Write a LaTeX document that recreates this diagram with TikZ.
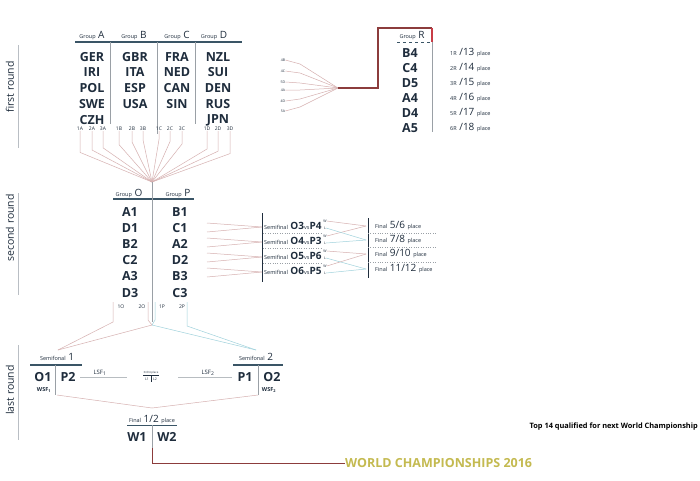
\documentclass[tikz,border=0pt]{standalone}
\usepackage{fontspec}
\setmainfont{Open Sans}
\setsansfont{Open Sans}
\definecolor{ink}{HTML}{1F2D3D}
\definecolor{rulec}{HTML}{3A5566}
\definecolor{sepc}{HTML}{9AA0A6}
\definecolor{pinkline}{RGB}{214,176,176}
\definecolor{blueline}{RGB}{160,210,220}
\definecolor{darkred}{RGB}{140,60,60}
\definecolor{brightred}{RGB}{200,60,70}
\definecolor{goldc}{RGB}{196,186,80}
\definecolor{roundc}{RGB}{185,190,196}
\newcommand{\gsm}[1]{{\fontsize{5.5}{6}\selectfont #1}}
\newcommand{\gbig}[1]{{\fontsize{10}{10}\selectfont #1}}
\newcommand{\gbigb}[1]{{\bfseries\fontsize{10}{10}\selectfont #1}}
\begin{document}
\begin{tikzpicture}[x=1pt,y=-1pt,
 team/.style={font=\bfseries\fontsize{12.5}{12.5}\selectfont, text=ink, inner sep=0pt},
 lbl/.style={font=\fontsize{5}{5}\selectfont, text=ink, inner sep=0pt},
 tinyl/.style={font=\fontsize{3.5}{4}\selectfont, text=ink, inner sep=0pt},
 hdr/.style={text=ink, inner sep=0pt, anchor=base},
 hrule/.style={draw=rulec, line width=1.1pt},
 sepline/.style={draw=sepc, line width=0.5pt},
 darkline/.style={draw=ink, line width=0.8pt},
 fan/.style={draw=pinkline, line width=0.5pt},
 fanb/.style={draw=blueline, line width=0.5pt},
 dotsep/.style={draw=sepc, line width=0.4pt, dotted},
 roundlbl/.style={font=\fontsize{10.5}{10.5}\selectfont, text=ink, rotate=90, inner sep=0pt},
 roundln/.style={draw=roundc, line width=0.6pt}]
\fill[white] (0,0) rectangle (700,480);
\useasboundingbox (0,0) rectangle (700,480);

% round labels
\node[roundlbl] (r1) at (10,87) {first round};
\node[roundlbl] (r2) at (10,228) {second round};
\node[roundlbl] (r3) at (10,390) {last round};
\draw[roundln] (18,45) -- (18,148);
\draw[roundln] (18,193) -- (18,295);
\draw[roundln] (18,345) -- (18,440);

% first round groups
\node[hdr] (gA) at (92,38) {\gsm{Group} \gbig{A}};
\node[hdr] (gB) at (134,38) {\gsm{Group} \gbig{B}};
\node[hdr] (gC) at (177,38) {\gsm{Group} \gbig{C}};
\node[hdr] (gD) at (214,38) {\gsm{Group} \gbig{D}};
\draw[hrule] (75,42) -- (242,42);
\draw[sepline] (110,42) -- (110,124);
\draw[sepline] (157,42) -- (157,134);
\draw[sepline] (195,42) -- (195,124);
\foreach \n/\x/\y in {GER/92/57,IRI/92/72,POL/92/88,SWE/92/104,CZH/92/120,
  GBR/135/57,ITA/135/72,ESP/135/88,USA/135/104,
  FRA/177/57,NED/177/72,CAN/177/88,SIN/177/104,
  NZL/218/57,SUI/218/72,DEN/218/88,RUS/218/104,JPN/218/120}
  \node[team] (t\n) at (\x,\y) {\n};
\coordinate (fanO) at (152,182);
\foreach \t/\x in {1A/80,2A/92,3A/103,1B/119,2B/132,3B/143,1C/159,2C/170,3C/182,1D/207,2D/218,3D/230}{
  \node[lbl] (l\t) at (\x,129) {\t};
  \draw[fan] (l\t.south) -- (\x,{138+abs(\x-152)*0.2}) -- (fanO);
}

% group R
\node[hdr] (gR) at (412,38) {\gsm{Group} \gbig{R}};
\draw[draw=rulec, line width=1pt, dashed] (397,42) -- (432,42);
\draw[sepline] (432,42) -- (432,132);
\foreach \n/\y/\r/\p in {B4/53/1R/13,C4/68/2R/14,D5/83/3R/15,A4/98/4R/16,D4/113/5R/17,A5/128/6R/18}{
  \node[team] (R\n) at (410,\y) {\n};
  \node[anchor=west, inner sep=0pt, text=ink] (P\n) at (450,\y) {\gsm{\r} \gbig{/\p} \gsm{place}};
}
\coordinate (fanR) at (338,88);
\foreach \t/\y/\yy in {4B/60/64,4C/71/73,5D/82/83,4A/90/90,4D/101/99,5A/111/107}{
  \node[tinyl] (q\t) at (283,\y) {\t};
  \draw[fan] (q\t.east) -- (300,\yy) -- (fanR);
}
\coordinate (rk1) at (378,88);
\coordinate (rk2) at (378,28);
\coordinate (rk3) at (432,28);
\coordinate (rk4) at (432,42);
\draw[darkred, line width=1.3pt] (fanR) -- (rk1) -- (rk2) -- (rk3);
\draw[brightred, line width=1.3pt] (rk3) -- (rk4);

% second round groups
\node[hdr] (gO) at (129,196) {\gsm{Group} \gbig{O}};
\node[hdr] (gP) at (178,196) {\gsm{Group} \gbig{P}};
\draw[hrule] (113,199) -- (194,199);
\draw[sepline] (fanO) -- (152,322);
\foreach \n/\m/\y in {A1/B1/212,D1/C1/228,B2/A2/244,C2/D2/260,A3/B3/276,D3/C3/293}{
  \node[team] (o\n) at (130,\y) {\n};
  \node[team] (p\m) at (180,\y) {\m};
}
\node[lbl] (l1O) at (121,307) {1O};
\node[lbl] (l2O) at (142,307) {2O};
\node[lbl] (l1P) at (162,307) {1P};
\node[lbl] (l2P) at (182,307) {2P};

% second-round semifinals
\draw[darkline] (262,213) -- (262,282);
\foreach \i/\a/\b/\y in {1/O3/P4/226,2/O4/P3/241,3/O5/P6/256,4/O6/P5/271}{
  \node[anchor=west, inner sep=0pt, text=ink] (sf\i) at (264,\y) {\gsm{Semifinal} \gbigb{\a}\gsm{vs}\gbigb{\b}};
  \node[tinyl] (w\i) at (325,\y-5) {W};
  \node[tinyl] (L\i) at (325,\y+2) {L};
  \coordinate (sfin\i) at (262,\y+1);
  \draw[fan] (207,\y-3) -- (sfin\i);
  \draw[fan] (207,\y+6) -- (sfin\i);
}
\draw[dotsep] (263,233.5) -- (322,233.5);
\draw[dotsep] (263,248.5) -- (322,248.5);
\draw[dotsep] (263,263.5) -- (322,263.5);
\draw[darkline] (368,218) -- (368,278);
\foreach \i/\t/\y in {1/5\slash6/226,2/7\slash8/240,3/9\slash10/254,4/11\slash12/269}{
  \node[anchor=west, inner sep=0pt, text=ink] (fn\i) at (375,\y) {\gsm{Final} \gbig{\t} \gsm{place}};
  \coordinate (fin\i) at (366,\y);
}
\draw[dotsep] (368,233) -- (437,233);
\draw[dotsep] (368,247) -- (437,247);
\draw[dotsep] (368,262) -- (437,262);
\draw[fan] (w1.east) -- (fin1);
\draw[fan] (w2.east) -- (fin1);
\draw[fanb] (L1.east) -- (fin2);
\draw[fanb] (L2.east) -- (fin2);
\draw[fan] (w3.east) -- (fin3);
\draw[fan] (w4.east) -- (fin3);
\draw[fanb] (L3.east) -- (fin4);
\draw[fanb] (L4.east) -- (fin4);

% connections to last round
\coordinate (jc) at (152,325);
\coordinate (sf1top) at (58,350);
\coordinate (sf2top) at (256,350);
\draw[fan] (113,302) -- (113,322) -- (sf1top);
\draw[fan] (148,302) -- (148,320) -- (jc);
\draw[fanb] (155,302) -- (155,320) -- (jc);
\draw[fan] (jc) -- (sf1top);
\draw[fanb] (jc) -- (sf2top);
\draw[fanb] (187,302) -- (187,326) -- (sf2top);

% last round
\node[hdr] (s1h) at (57,360) {\gsm{Semifonal} \gbig{1}};
\draw[hrule] (30,365) -- (82,365);
\node[team] (sO1) at (43,377) {O1};
\node[team] (sP2) at (68,377) {P2};
\draw[sepline] (55,365) -- (55,395);
\node[lbl, font=\bfseries\fontsize{5.5}{6}\selectfont] (wsf1) at (44,390) {WSF\textsubscript{1}};

\node[hdr] (s2h) at (256,360) {\gsm{Semifonal} \gbig{2}};
\draw[hrule] (233,365) -- (283,365);
\node[team] (sP1) at (245,377) {P1};
\node[team] (sO2) at (272,377) {O2};
\draw[sepline] (258,365) -- (258,395);
\node[lbl, font=\bfseries\fontsize{5.5}{6}\selectfont] (wsf2) at (269,390) {WSF\textsubscript{2}};

\draw[draw=sepc!70, line width=0.5pt] (80,377) -- (127,377);
\draw[draw=sepc!70, line width=0.5pt] (178,377) -- (232,377);
\node[lbl, fill=white, inner sep=1pt, font=\fontsize{6}{6}\selectfont] (lsf1) at (100,373) {LSF\textsubscript{1}};
\node[lbl, fill=white, inner sep=1pt, font=\fontsize{6}{6}\selectfont] (lsf2) at (208,373) {LSF\textsubscript{2}};
\node[tinyl, font=\fontsize{2.8}{3}\selectfont] (thr) at (151,373) {3rd/4 place};
\draw[draw=ink, line width=0.3pt] (143,375.5) -- (159,375.5);
\node[tinyl, font=\fontsize{3.5}{4}\selectfont] (ll1) at (147,379) {L1};
\node[tinyl, font=\fontsize{3.5}{4}\selectfont] (ll2) at (155,379) {L2};
\draw[draw=ink, line width=0.3pt] (151,376) -- (151,382);

\coordinate (fj) at (152,408);
\draw[fan] (57,395) -- (fj);
\draw[fan] (258,395) -- (fj);
\node[hdr] (fh) at (152,422) {\gsm{Final} \gbig{1/2} \gsm{place}};
\draw[draw=rulec, line width=0.8pt] (127,425) -- (177,425);
\node[team] (W1) at (137,437) {W1};
\node[team] (W2) at (167,437) {W2};
\draw[sepline] (152,425) -- (152,448);
\node[anchor=west, inner sep=0pt, text=goldc, font=\bfseries\fontsize{12.5}{13}\selectfont] (wc) at (345,463) {WORLD CHAMPIONSHIPS 2016};
\draw[darkred, line width=1pt] (152,448) -- (152,463) -- (wc.west);
\node[anchor=east, inner sep=0pt, text=black, font=\bfseries\fontsize{7.4}{8}\selectfont] (top) at (698,427) {Top 14 qualified for next World Championship};
\end{tikzpicture}
\end{document}
